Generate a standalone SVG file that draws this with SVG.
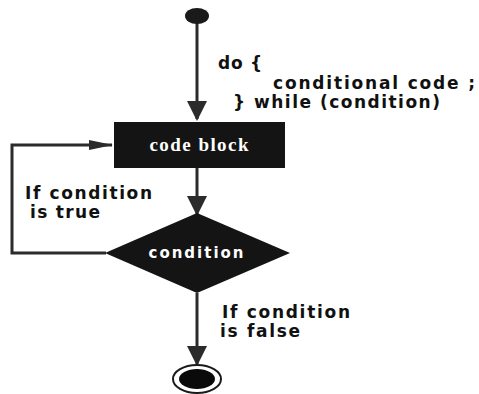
<svg xmlns="http://www.w3.org/2000/svg" width="479" height="394" viewBox="0 0 479 394">
<style>
.ln{fill:none;stroke:#2b2b2b;stroke-width:3}
.lbl{font-family:"DejaVu Sans",sans-serif;font-weight:bold;font-size:17px;fill:#111111}
.wt{fill:#ffffff;font-weight:bold}
</style>
<defs>
<marker id="ah" markerUnits="userSpaceOnUse" markerWidth="20" markerHeight="20" refX="18" refY="10" orient="auto" viewBox="0 0 20 20">
<path d="M0,0 L20,10 L0,20 z" fill="#2b2b2b"/>
</marker>
<marker id="ahs" markerUnits="userSpaceOnUse" markerWidth="24" markerHeight="10" refX="23" refY="5" orient="auto" viewBox="0 0 24 10">
<path d="M0,0 L24,5 L0,10 z" fill="#2b2b2b"/>
</marker>
</defs>
<rect width="479" height="394" fill="#ffffff"/>
<g id="connectors">
<line class="ln" x1="197" y1="22" x2="197" y2="119" marker-end="url(#ah)"/>
<line class="ln" x1="197" y1="168" x2="197" y2="214" marker-end="url(#ah)"/>
<line class="ln" x1="197" y1="293" x2="197" y2="364" marker-end="url(#ah)"/>
<polyline class="ln" points="106,253 12,253 12,145 112,145" marker-end="url(#ahs)"/>
</g>
<g id="start">
<ellipse cx="197" cy="16" rx="12" ry="8" fill="#1a1a1a"/>
</g>
<g id="label-do">
<text class="lbl" x="218" y="69" textLength="44" lengthAdjust="spacing">do {</text>
<text class="lbl" x="273" y="89" textLength="202" lengthAdjust="spacing">conditional code ;</text>
<text class="lbl" x="233" y="108" textLength="207" lengthAdjust="spacing">} while (condition)</text>
</g>
<g id="code-block">
<rect x="114" y="122" width="171" height="46" fill="#141414"/>
<text x="199" y="151" text-anchor="middle" font-family="'Liberation Serif',serif" font-size="19" class="wt" textLength="99" lengthAdjust="spacing">code block</text>
</g>
<g id="label-true">
<text class="lbl" x="25" y="199" textLength="127" lengthAdjust="spacing">If condition</text>
<text class="lbl" x="30" y="218" textLength="70" lengthAdjust="spacing">is true</text>
</g>
<g id="condition">
<polygon points="197,213 290,253 197,293 105,253" fill="#141414"/>
<text x="196" y="258" text-anchor="middle" font-family="'DejaVu Sans',sans-serif" font-size="15" class="wt" textLength="95" lengthAdjust="spacing">condition</text>
</g>
<g id="label-false">
<text class="lbl" x="222" y="318" textLength="128" lengthAdjust="spacing">If condition</text>
<text class="lbl" x="220" y="337" textLength="80" lengthAdjust="spacing">is false</text>
</g>
<g id="end">
<ellipse cx="197" cy="379" rx="24" ry="14" fill="#ffffff" stroke="#1a1a1a" stroke-width="2"/>
<ellipse cx="197" cy="379" rx="18" ry="10" fill="#0a0a0a"/>
</g>
</svg>
